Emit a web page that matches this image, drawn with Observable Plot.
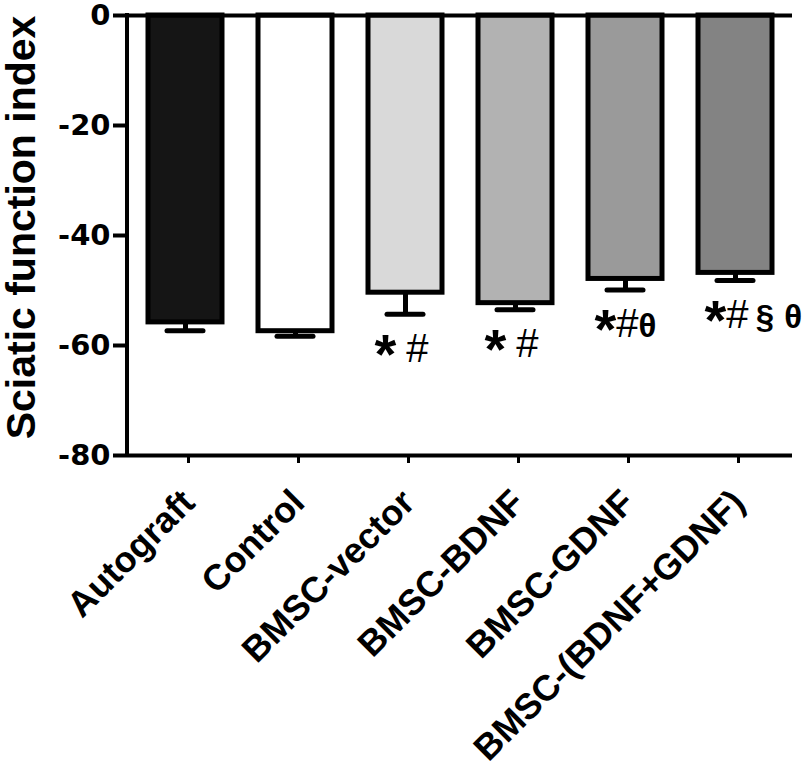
<!DOCTYPE html>
<html>
<head>
<meta charset="utf-8">
<script src="https://cdn.jsdelivr.net/npm/d3@7"></script>
<script src="https://cdn.jsdelivr.net/npm/@observablehq/plot@0.6"></script>
<style>
  html, body { margin: 0; padding: 0; background: #fff; }
  #chart svg { display: block; background: #fff; }
</style>
</head>
<body>
<div id="chart"></div>
<script>
const groups = ["Autograft", "Control", "BMSC-vector", "BMSC-BDNF", "BMSC-GDNF", "BMSC-(BDNF+GDNF)"];
const means  = [-55.8, -57.4, -50.4, -52.3, -47.9, -46.8];
const sems   = [1.5, 0.9, 3.9, 1.2, 2.0, 1.4];
const fills  = ["#151515", "#ffffff", "#d9d9d9", "#b2b2b2", "#9a9a9a", "#838383"];
const sigMarks = ["", "", "* #", "* #", "*#\u03b8", "*#\u2009\u00a7 \u03b8"];
const yTicks = [0, -20, -40, -60, -80];
const yTitle = "Sciatic function index";

const data = groups.map((g, i) => ({group: g, mean: means[i], sem: sems[i], fill: fills[i], sig: sigMarks[i]}));

const tickFont = "DejaVu Sans, Liberation Sans, Arial, sans-serif";
const arial = "Liberation Sans, Arial, sans-serif";

const chart = Plot.plot({
  width: 802,
  height: 768,
  marginTop: 15,
  marginLeft: 127,
  marginRight: 10,
  marginBottom: 313,
  style: {background: "#fff", color: "#000"},
  x: {domain: groups, paddingInner: 0.33, paddingOuter: 0.165},
  y: {domain: [-80, 0]},
  marks: [
    Plot.barY(data, {x: "group", y: "mean", fill: d => d.fill, stroke: "#000", strokeWidth: 5}),
    Plot.ruleX(data, {x: "group", y1: "mean", y2: d => d.mean - d.sem, stroke: "#000", strokeWidth: 5}),
    Plot.tickY(data, {x: "group", y: d => d.mean - d.sem, stroke: "#000", strokeWidth: 5, strokeLinecap: "round", inset: 19}),
    Plot.ruleY([0, -80], {stroke: "#000", strokeWidth: 4}),
    Plot.text(data, {x: "group", y: d => d.mean - d.sem, text: "sig", textAnchor: "start", dx: -31, dy: 36, fontSize: 36, fontWeight: "bold", fontFamily: arial, fill: "#000"}),
    Plot.axisY({ticks: yTicks, tickFormat: d => String(d), tickSize: 14, tickPadding: 3, strokeWidth: 4, fontSize: 29, fontWeight: "bold", fontFamily: tickFont, label: null}),
    Plot.axisX({anchor: "bottom", tickSize: 8, tickPadding: 33, strokeWidth: 3, tickRotate: -45, dx: 3, fontSize: 36, fontWeight: "bold", fontFamily: arial, label: null}),
    Plot.text([yTitle], {frameAnchor: "left", textAnchor: "middle", lineAnchor: "middle", rotate: -90, dx: -106, dy: -8, fontSize: 41, fontWeight: "bold", fontFamily: arial, fill: "#000"})
  ]
});

// left axis line drawn from the chart's own scales
const xs = chart.scale("x"), ys = chart.scale("y");
d3.select(chart).append("line")
  .attr("x1", xs.range[0]).attr("x2", xs.range[0])
  .attr("y1", ys.range[0] + 2).attr("y2", ys.range[1] - 2)
  .attr("stroke", "#000").attr("stroke-width", 4);

// style the significance symbols: big centred asterisk, regular-weight hash
const starShift = 11;
d3.select(chart).selectAll("text")
  .filter(function () { return this.textContent.includes("#") && !this.querySelector("tspan"); })
  .each(function () {
    const s = this.textContent;
    const t = d3.select(this);
    t.text(null);
    let prevStar = false;
    for (const ch of s) {
      const sp = t.append("tspan").text(ch);
      if (ch === "*") sp.style("font-size", "56px").attr("dy", starShift);
      else {
        if (prevStar) sp.attr("dy", -starShift);
        if (ch === "#") sp.style("font-weight", "normal").style("font-size", "40px");
        else if (ch.trim() !== "") sp.style("font-size", "33px");
      }
      prevStar = ch === "*";
    }
  });

document.getElementById("chart").appendChild(chart);
</script>
</body>
</html>
